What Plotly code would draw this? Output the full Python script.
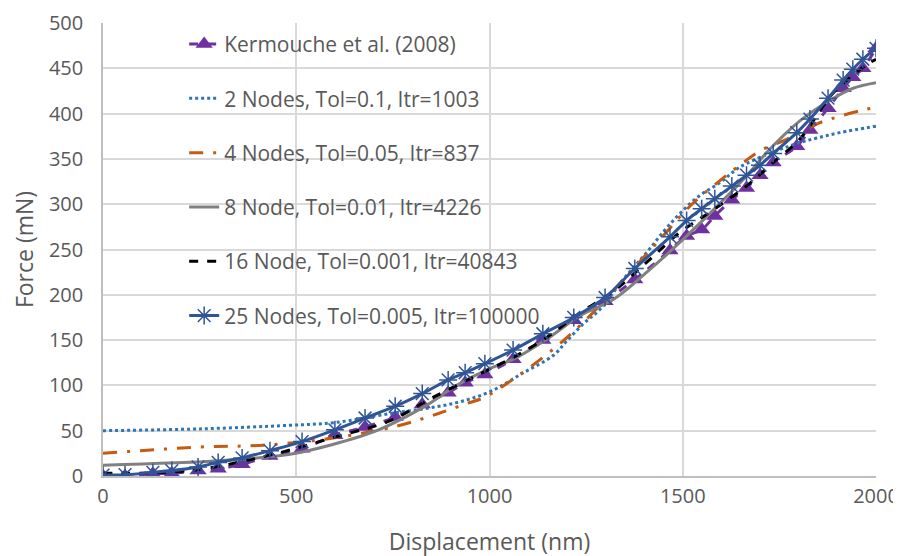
import plotly.graph_objects as go

# Kermouche et al. (2008) and 25-node share the same x positions
x_ref = [0, 57, 129, 178, 246, 298, 360, 432, 515, 600, 678, 756, 826, 893, 937, 988,
         1061, 1138, 1218, 1299, 1376, 1467, 1510, 1549, 1583, 1627, 1665, 1700, 1734,
         1795, 1829, 1876, 1915, 1940, 1966, 2000]
y_kermouche = [0, 0, 2.5, 3, 6, 8, 13, 22, 30, 45, 54, 65, 79, 92, 103, 112,
               129, 150, 172, 193, 217, 249, 265, 272, 287, 305, 318, 332, 346,
               364, 382, 406, 428, 440, 450, 472]
y_25 = [1, 1.5, 4, 6, 10, 15, 20, 28, 38, 51, 64, 77, 91, 106, 114, 124,
        139, 157, 175, 197, 229, 264, 282, 295, 306, 320, 332, 343, 356,
        379, 394, 417, 437, 449, 460, 472]

x_2 = [0, 250, 484, 600, 743, 828, 915, 1001, 1088, 1165, 1200, 1243, 1286, 1346,
       1407, 1467, 1536, 1597, 1648, 1743, 1803, 1847, 1906, 2000]
y_2 = [50, 52, 56, 59, 69, 74, 81, 93, 114, 133, 149, 168, 184, 217,
       247, 278, 307, 324, 341, 359, 368, 373, 379, 386]

x_4 = [0, 251, 414, 596, 760, 868, 941, 988, 1075, 1165, 1251, 1355, 1441, 1519,
       1605, 1657, 1700, 1760, 1803, 1855, 1906, 1967, 2000]
y_4 = [25, 32, 34, 42, 55, 69, 80, 87, 111, 140, 173, 221, 261, 298,
       329, 346, 359, 370, 379, 390, 397, 404, 407]

x_8 = [0, 311, 484, 587, 708, 829, 915, 997, 1062, 1148, 1234, 1321, 1407, 1493,
       1580, 1665, 1717, 1803, 1890, 1941, 2000]
y_8 = [12, 17, 24, 34, 50, 76, 100, 118, 129, 151, 177, 195, 225, 258,
       294, 331, 357, 392, 417, 428, 434]

x_16 = [0, 225, 432, 600, 743, 846, 967, 1062, 1148, 1234, 1321, 1407, 1493, 1580,
        1665, 1734, 1803, 1890, 1976, 2000]
y_16 = [3, 6, 23, 43, 61, 85, 111, 131, 153, 180, 204, 236, 269, 294,
        320, 346, 372, 423, 454, 460]

names = ["Kermouche et al. (2008)", "2 Nodes, Tol=0.1, Itr=1003",
         "4 Nodes, Tol=0.05, Itr=837", "8 Node, Tol=0.01, Itr=4226",
         "16 Node, Tol=0.001, Itr=40843", "25 Nodes, Tol=0.005, Itr=100000"]

x_ticks = [0, 500, 1000, 1500, 2000]
y_ticks = list(range(0, 501, 50))

FONT = "Open Sans, Noto Sans, sans-serif"
GREY = "#595959"

fig = go.Figure()
fig.add_trace(go.Scatter(x=x_ref, y=y_kermouche, name=names[0], legendgroup="a",
                         mode="lines+markers", line=dict(color="#7030A0", width=3, dash="dash", shape="spline"),
                         marker=dict(symbol="triangle-up", size=15, color="#7030A0")))
fig.add_trace(go.Scatter(x=x_2, y=y_2, name=names[1], legendgroup="b", mode="lines",
                         line=dict(color="#2E75B6", width=3, dash="dot", shape="spline")))
fig.add_trace(go.Scatter(x=x_4, y=y_4, name=names[2], legendgroup="c", mode="lines",
                         line=dict(color="#C55A11", width=3, dash="14px,10px,3px,10px", shape="spline")))
fig.add_trace(go.Scatter(x=x_8, y=y_8, name=names[3], legendgroup="d", mode="lines",
                         line=dict(color="#808080", width=3, shape="spline")))
fig.add_trace(go.Scatter(x=x_16, y=y_16, name=names[4], legendgroup="e", mode="lines",
                         line=dict(color="#000000", width=3, dash="dash", shape="spline")))
fig.add_trace(go.Scatter(x=x_ref, y=y_25, name=names[5], legendgroup="f",
                         mode="lines+markers", line=dict(color="#2F5597", width=3, shape="spline"),
                         marker=dict(symbol="asterisk-open", size=15, line=dict(color="#2F5597", width=1.5))))

fig.update_layout(
    width=901, height=556,
    margin=dict(l=95, r=33, t=15, b=88),
    paper_bgcolor="white", plot_bgcolor="white",
    font=dict(family=FONT, size=20, color=GREY),
    legend=dict(x=0.105, y=0.998, xanchor="left", yanchor="top", bgcolor="rgba(0,0,0,0)",
                traceorder="grouped", tracegroupgap=24, font=dict(family=FONT, size=21, color=GREY)),
    xaxis=dict(range=[0, 2000], tickvals=x_ticks, showgrid=True, gridcolor="#D9D9D9", gridwidth=1.5,
               zeroline=False, showline=True, linecolor="#BFBFBF", linewidth=1.5, ticks="",
               automargin=False, ticklabelstandoff=1, ticklabeloverflow="allow",
               title=dict(text="Displacement (nm)", font=dict(family=FONT, size=23, color=GREY), standoff=26),
               tickfont=dict(family=FONT, size=20, color=GREY)),
    yaxis=dict(range=[0, 500], tickvals=y_ticks, showgrid=True, gridcolor="#D9D9D9", gridwidth=1.5,
               zeroline=False, showline=True, linecolor="#BFBFBF", linewidth=1.5, ticks="",
               automargin=False, ticklabelstandoff=14, ticklabeloverflow="allow",
               title=dict(text="Force (mN)", font=dict(family=FONT, size=23, color=GREY), standoff=26),
               tickfont=dict(family=FONT, size=20, color=GREY)),
)
fig.write_html("out.html")
